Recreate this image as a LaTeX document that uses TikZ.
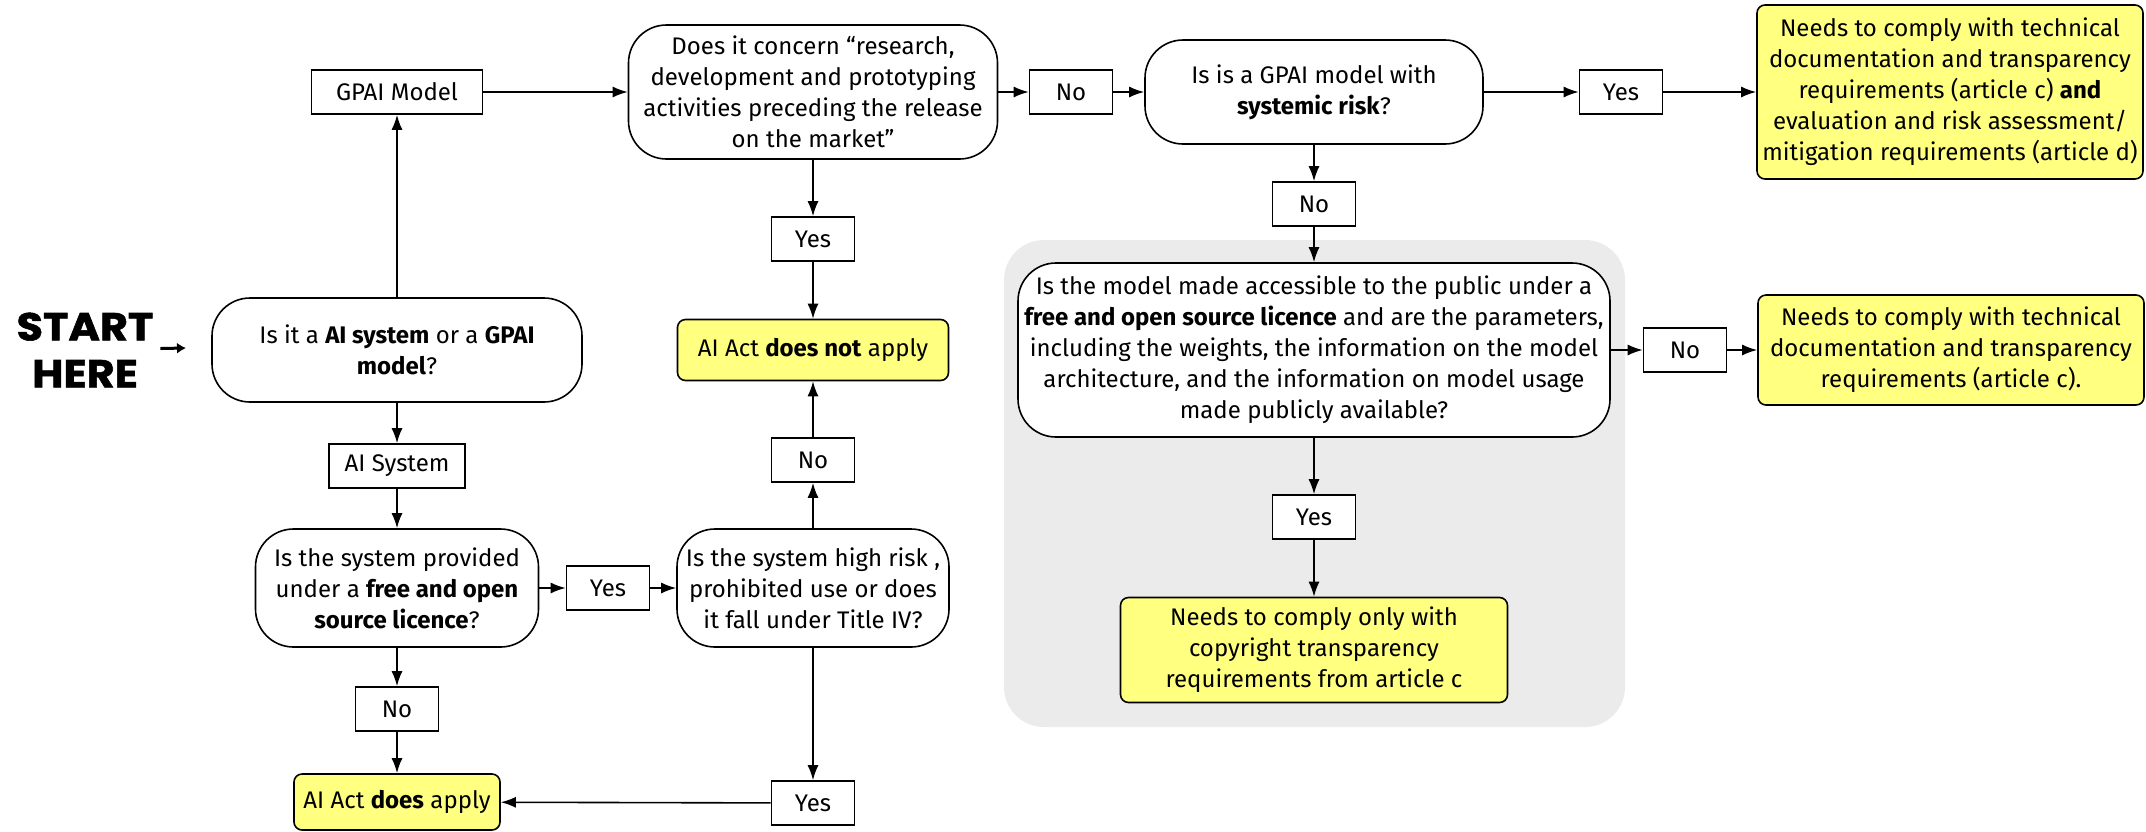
\documentclass[tikz,border=0pt]{standalone}
\usepackage{fontspec}
\setmainfont{Fira Sans}
\newfontfamily\startfont{Poppins}[FakeStretch=1.1,BoldFeatures={FakeBold=1.5}]
\usetikzlibrary{arrows.meta,positioning}
\definecolor{verdictyellow}{HTML}{FFFF80}
\definecolor{greyzone}{HTML}{EBEBEB}

\begin{document}
\begin{tikzpicture}[x=1pt,y=-1pt,->,>={Latex[length=15pt,width=11pt]},line width=1.6pt,
  font=\fontsize{24}{31}\selectfont,
  question/.style={draw,fill=white,rounded corners=38pt,align=center,inner sep=0pt},
  answer/.style={draw,fill=white,minimum width=83pt,minimum height=44pt,inner sep=0pt},
  verdict/.style={draw,fill=verdictyellow,rounded corners=8pt,align=center,inner sep=0pt}]
%\tikzstyle{every node}=[draw]
  \useasboundingbox (0,0) rectangle (2146,831);
  \fill[greyzone,rounded corners=40pt] (1004,240) rectangle (1625,727);

  \node[question,minimum width=370pt,minimum height=104pt] (sysq) at (397,350)
       {Is it a \textbf{AI system} or a \textbf{GPAI}\\\textbf{model}?};
  \node[font=\startfont\bfseries\fontsize{39}{47}\selectfont,align=center] (start) [left of=sysq,node distance=312pt] {START\\HERE};
  \node[answer,minimum width=171pt] (gpai) [above of=sysq,node distance=258pt] {GPAI Model};
  \node[question,minimum width=369pt,minimum height=134pt] (research) [right of=gpai,node distance=416pt]
       {Does it concern “research,\\development and prototyping\\activities preceding the release\\on the market”};
  \node[answer] (resyes) [below of=research,node distance=147pt] {Yes};
  \node[verdict,minimum width=271pt,minimum height=61pt] (notapply) [below of=resyes,node distance=111pt]
       {AI Act \textbf{does not} apply};
  \node[answer] (no1) [right of=research,node distance=258pt] {No};
  \node[question,minimum width=338pt,minimum height=104pt] (systemic) [right of=no1,node distance=243pt]
       {Is is a GPAI model with\\\textbf{systemic risk}?};
  \node[answer] (yes2) [right of=systemic,node distance=307pt] {Yes};
  \node[verdict,minimum width=386pt,minimum height=174pt] (both) [right of=yes2,node distance=329pt]
       {Needs to comply with technical\\documentation and transparency\\requirements (article c) \textbf{and}\\evaluation and risk assessment/\\mitigation requirements (article d)};
  \node[answer] (no2) [below of=systemic,node distance=112pt] {No};
  \node[question,minimum width=592pt,minimum height=174pt] (open) [below of=no2,node distance=146pt]
       {Is the model made accessible to the public under a\\\textbf{free and open source licence} and are the parameters,\\including the weights, the information on the model\\architecture, and the information on model usage\\made publicly available?};
  \node[answer] (no3) [right of=open,node distance=371pt] {No};
  \node[verdict,minimum width=386pt,minimum height=110pt] (techonly) [right of=no3,node distance=266pt]
       {Needs to comply with technical\\documentation and transparency\\requirements (article c).};
  \node[answer] (yes3) [below of=open,node distance=167pt] {Yes};
  \node[verdict,minimum width=387pt,minimum height=105pt] (copyright) [below of=yes3,node distance=133pt]
       {Needs to comply only with\\copyright transparency\\requirements from article c};
  \node[answer,minimum width=136pt] (aisys) [below of=sysq,node distance=116pt] {AI System};
  \node[question,minimum width=283pt,minimum height=118pt] (foss) [below of=aisys,node distance=122pt]
       {Is the system provided\\under a \textbf{free and open}\\\textbf{source licence}?};
  \node[answer] (yes4) [right of=foss,node distance=211pt] {Yes};
  \node[question,minimum width=272pt,minimum height=118pt] (highrisk) [right of=yes4,node distance=205pt]
       {Is the system high risk ,\\prohibited use or does\\it fall under Title IV?};
  \node[answer] (no4) [above of=highrisk,node distance=128pt] {No};
  \node[answer] (no5) [below of=foss,node distance=121pt] {No};
  \node[verdict,minimum width=206pt,minimum height=56pt] (applies) [below of=no5,node distance=93pt]
       {AI Act \textbf{does} apply};
  \node[answer] (yes5) [below of=highrisk,node distance=215pt] {Yes};
  \coordinate (startend) at (186,348);

  \draw[-{Latex[length=9pt,width=11pt]},line width=3pt,shorten <=3pt] (start) -- (startend);
  \path (sysq)     edge (gpai)
                   edge (aisys)
        (gpai)     edge (research)
        (research) edge (resyes)
                   edge (no1)
        (resyes)   edge (notapply)
        (no1)      edge (systemic)
        (systemic) edge (yes2)
                   edge (no2)
        (yes2)     edge (both)
        (no2)      edge (open)
        (open)     edge (no3)
                   edge (yes3)
        (no3)      edge (techonly)
        (yes3)     edge (copyright)
        (aisys)    edge (foss)
        (foss)     edge (yes4)
                   edge (no5)
        (yes4)     edge (highrisk)
        (highrisk) edge (no4)
                   edge (yes5)
        (no4)      edge (notapply)
        (no5)      edge (applies)
        (yes5)     edge (applies);
\end{tikzpicture}
\end{document}
